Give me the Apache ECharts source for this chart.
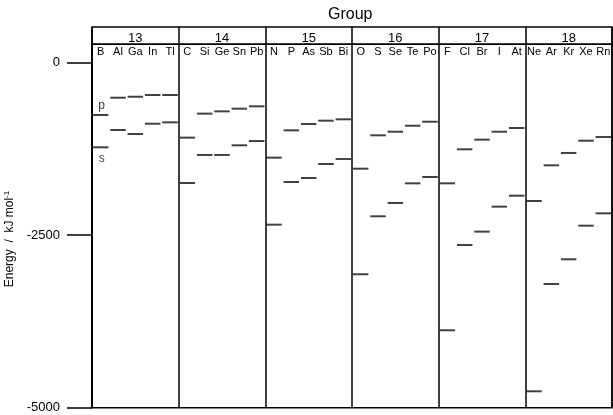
<!DOCTYPE html>
<html><head><meta charset="utf-8">
<script src="https://cdn.jsdelivr.net/npm/echarts@6/dist/echarts.min.js"></script>
<style>html,body{margin:0;padding:0;background:#fff}#c{width:613px;height:415px}</style>
</head><body><div id="c"></div>
<script>
const groups = ['13','14','15','16','17','18'];
const elements = ['B','Al','Ga','In','Tl','C','Si','Ge','Sn','Pb','N','P','As','Sb','Bi','O','S','Se','Te','Po','F','Cl','Br','I','At','Ne','Ar','Kr','Xe','Rn'];
const pEnergy = [-758,-507,-493,-468,-468, -1086,-738,-705,-666,-632, -1376,-980,-888,-840,-820, -1536,-1052,-1000,-913,-855, -1748,-1255,-1115,-1000,-946, -2004,-1487,-1308,-1130,-1077];
const sEnergy = [-1226,-975,-1033,-884,-864, -1743,-1337,-1337,-1197,-1135, -2347,-1729,-1671,-1468,-1395, -3066,-2226,-2033,-1748,-1656, -3878,-2642,-2448,-2086,-1927, -4762,-3207,-2849,-2362,-2183];
const yTicks = [0,-2500,-5000];

const FONT = 'Liberation Sans, Arial, sans-serif';
const chart = echarts.init(document.getElementById('c'), null, {renderer:'canvas'});

function pts(vals, lab, pos){
  return vals.map((v,i)=>{
    const d = {value:[elements[i], v]};
    if(i===0) d.label = {show:true, formatter:lab, position:pos, distance:3, offset:[1,1], fontSize:12, fontFamily:FONT, color:'#000'};
    return d;
  });
}

chart.setOption({
  animation:false,
  title:{text:'Group', left:328, top:7, padding:0, textStyle:{fontSize:16, fontWeight:'normal', fontFamily:FONT, color:'#000'}},
  grid:[
    {left:92, right:1, top:27, height:17.3, show:true, borderColor:'#000', borderWidth:1.5, outerBoundsMode:'none', containLabel:false},
    {left:92, right:1, top:44.3, bottom:7.3, show:true, borderColor:'#000', borderWidth:1.5, outerBoundsMode:'none', containLabel:false}
  ],
  xAxis:[
    {type:'category', gridIndex:0, data:groups, position:'bottom', boundaryGap:true,
     axisLine:{show:false}, axisTick:{show:false},
     splitLine:{show:true, interval:0, lineStyle:{color:'#000', width:1.5}},
     axisLabel:{inside:true, margin:-0.5, interval:0, fontSize:13, fontFamily:FONT, color:'#000'}},
    {type:'category', gridIndex:1, data:elements, position:'top', boundaryGap:true,
     axisLine:{show:false}, axisTick:{show:false}, splitLine:{show:false},
     axisLabel:{inside:true, margin:2.5, interval:0, fontSize:11, fontFamily:FONT, color:'#000'}},
    {type:'category', gridIndex:1, data:groups, position:'bottom', boundaryGap:true,
     axisLine:{show:false}, axisTick:{show:false}, axisLabel:{show:false},
     splitLine:{show:true, interval:0, lineStyle:{color:'#000', width:1.5}}}
  ],
  yAxis:[
    {type:'value', gridIndex:0, show:false, min:0, max:1, splitLine:{show:false}},
    {type:'value', gridIndex:1, min:-5000, max:267,
     name:'{a|Energy  /  kJ mol}{b|-1}', nameLocation:'middle', nameGap:73,
     nameTextStyle:{fontFamily:FONT, color:'#000', padding:[0,26,0,0], rich:{a:{fontSize:12, fontFamily:FONT, color:'#000'}, b:{fontSize:8, fontFamily:FONT, color:'#000', verticalAlign:'top', lineHeight:14}}},
     axisLine:{show:true, lineStyle:{color:'#000', width:1.5}},
     axisTick:{show:true, length:25, customValues:yTicks, lineStyle:{color:'#000', width:1.5}},
     axisLabel:{customValues:yTicks, margin:32, fontSize:13, fontFamily:FONT, color:'#000', formatter:v=>String(v)},
     splitLine:{show:false}}
  ],
  series:[
    {type:'scatter', xAxisIndex:1, yAxisIndex:1, symbol:'rect', symbolSize:[15.5,2], itemStyle:{color:'#111'}, data:pts(pEnergy,'p','top')},
    {type:'scatter', xAxisIndex:1, yAxisIndex:1, symbol:'rect', symbolSize:[15.5,2], itemStyle:{color:'#111'}, data:pts(sEnergy,'s','bottom')}
  ]
});
</script></body></html>
